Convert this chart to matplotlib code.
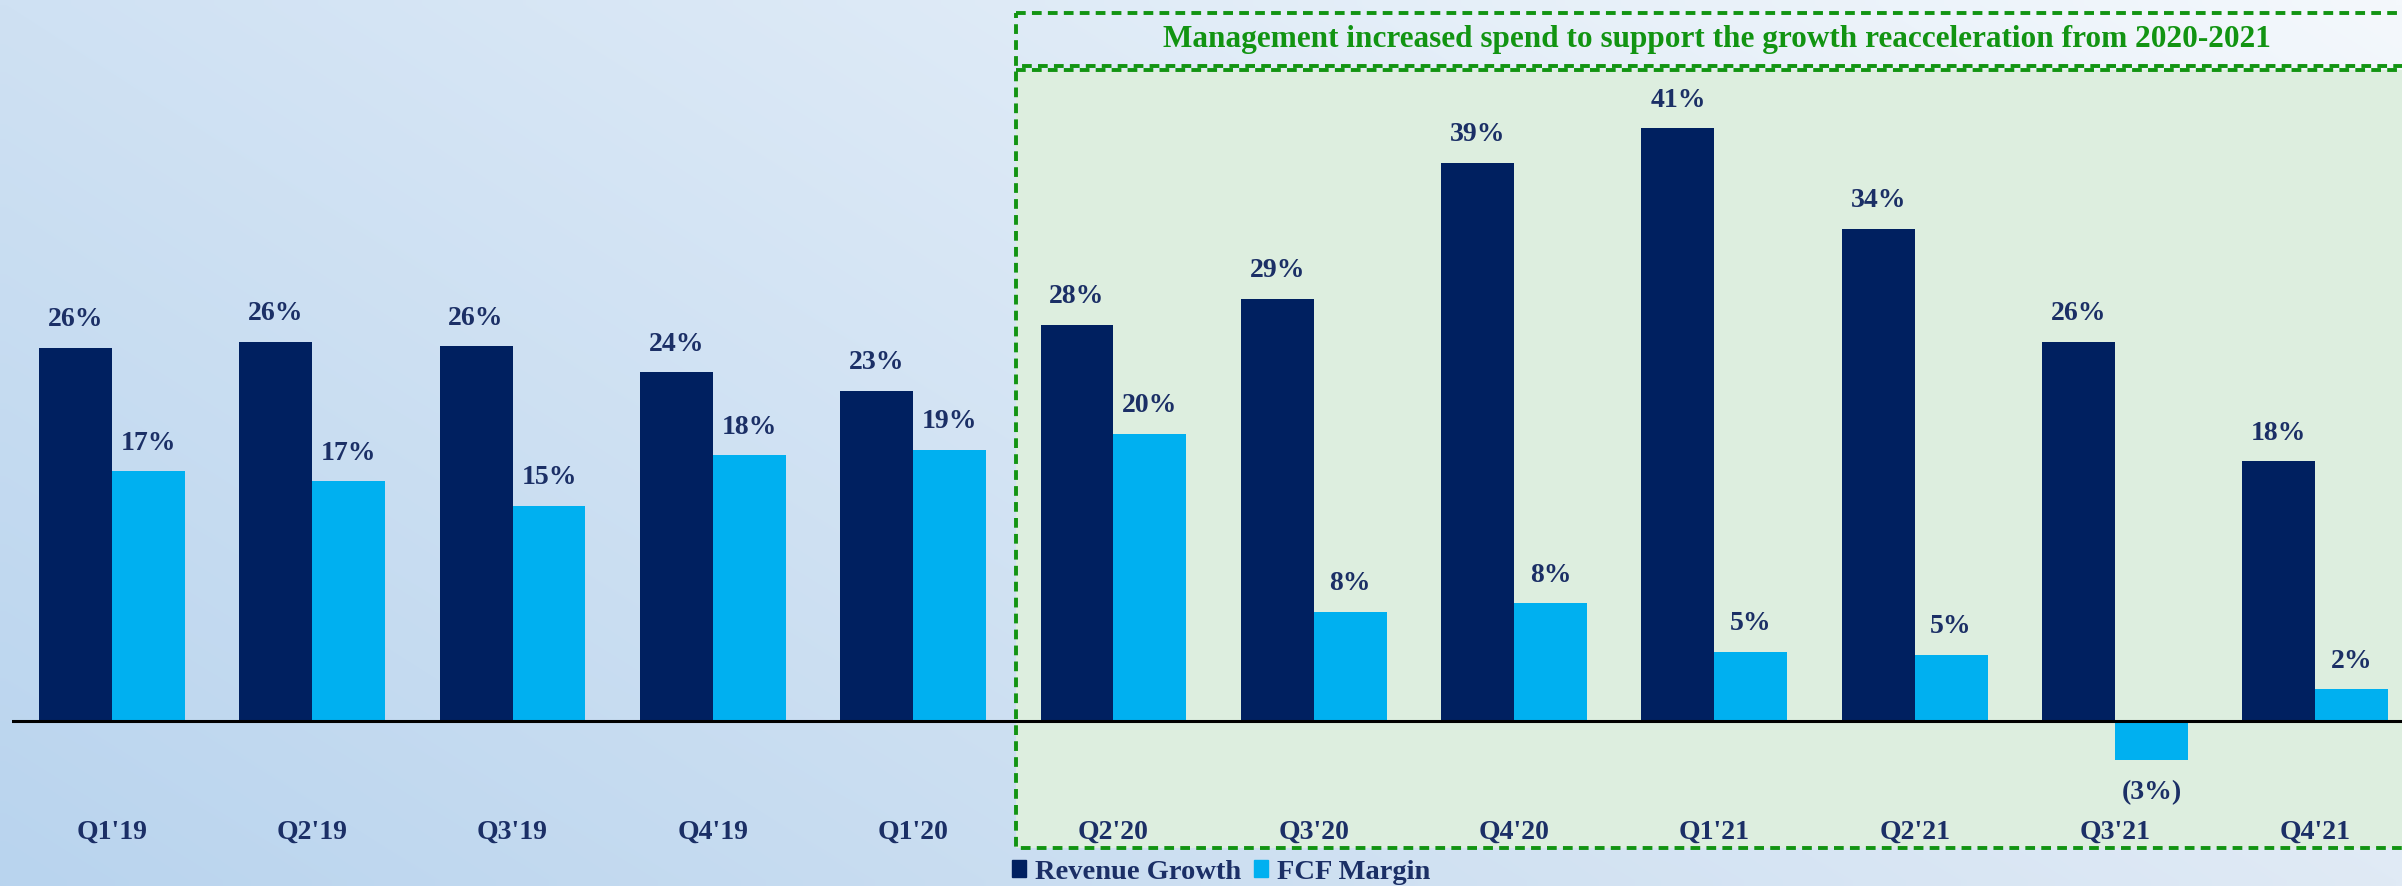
import numpy as np
import matplotlib.pyplot as plt
from matplotlib.patches import Rectangle, Patch

quarters = ["Q1'19", "Q2'19", "Q3'19", "Q4'19", "Q1'20", "Q2'20",
            "Q3'20", "Q4'20", "Q1'21", "Q2'21", "Q3'21", "Q4'21"]
revenue_growth = [26.0, 26.4, 26.1, 24.3, 23.0, 27.6, 29.4, 38.9, 41.3, 34.3, 26.4, 18.1]
fcf_margin = [17.4, 16.7, 15.0, 18.5, 18.9, 20.0, 7.6, 8.2, 4.8, 4.6, -2.7, 2.2]
series_names = ["Revenue Growth", "FCF Margin"]
note = "Management increased spend to support the growth reacceleration from 2020-2021"

navy = "#002060"
cyan = "#00B0F0"
text_c = "#1b2f66"
green = "#129412"
plt.rcParams['font.family'] = ['Liberation Serif', 'DejaVu Serif']
plt.rcParams['font.weight'] = 'bold'

W, H = 2402, 887
fig = plt.figure(figsize=(W / 100, H / 100), dpi=100)

# background gradient + highlight boxes, in pixel coords
bg = fig.add_axes([0, 0, 1, 1], zorder=0)
bg.set_xlim(0, W)
bg.set_ylim(H, 0)
bg.axis('off')
c00 = np.array([0xb9, 0xd4, 0xee]) / 255  # bottom-left
c01 = np.array([0xcf, 0xe1, 0xf3]) / 255  # top-left
c10 = np.array([0xe0, 0xea, 0xf5]) / 255  # bottom-right
c11 = np.array([0xf4, 0xf8, 0xfc]) / 255  # top-right
gx, gy = np.meshgrid(np.linspace(0, 1, 200), np.linspace(1, 0, 80))
grad = ((1 - gx) * (1 - gy))[..., None] * c00 + ((1 - gx) * gy)[..., None] * c01 \
    + (gx * (1 - gy))[..., None] * c10 + (gx * gy)[..., None] * c11
bg.imshow(grad, extent=(0, W, H, 0), aspect='auto', interpolation='bilinear')

dash = (0, (2.5, 1.6))
bg.add_patch(Rectangle((1016, 71), 1420, 778, facecolor="#ddeedf", edgecolor=green,
                       lw=2.8, linestyle=dash))
bg.add_patch(Rectangle((1016, 14), 1420, 53, facecolor='none', edgecolor=green,
                       lw=2.8, linestyle=dash))
bg.text(1717, 40, note, color=green, fontsize=22.5, ha='center', va='center',
        fontweight='bold')

# bars
ax = fig.add_axes([12 / W, 0, 1 - 12 / W, 1], zorder=1)
ax.patch.set_alpha(0)
x = np.arange(len(quarters))
w = 0.364
ax.bar(x - w / 2, revenue_growth, w, color=navy, label=series_names[0])
ax.bar(x + w / 2, fcf_margin, w, color=cyan, label=series_names[1])
ax.axhline(0, color='black', lw=2.2)
ax.set_xlim(-0.499, 11.433)
ax.set_ylim(-11.5, 50.31)
ax.axis('off')


def fmt(v):
    r = int(round(v))
    return f"{r}%" if r >= 0 else f"({-r}%)"


for i in range(len(quarters)):
    for xi, v in [(x[i] - w / 2, revenue_growth[i]), (x[i] + w / 2, fcf_margin[i])]:
        off = 21 if v >= 0 else -23
        ax.annotate(fmt(v), (xi, v), xytext=(0, off), textcoords='offset points',
                    ha='center', va='center', fontsize=20, color=text_c)
    ax.text(x[i], -7.7, quarters[i], ha='center', va='center', fontsize=20, color=text_c)

handles = [Patch(color=navy), Patch(color=cyan)]
fig.legend(handles, series_names, loc='center', bbox_to_anchor=(1221 / W, 14 / H),
           ncol=2, frameon=False, fontsize=20.5, handlelength=0.5, handleheight=0.5,
           handletextpad=0.3, columnspacing=0.45, labelcolor=text_c, borderpad=0)

fig.savefig("out.png", dpi=100)
